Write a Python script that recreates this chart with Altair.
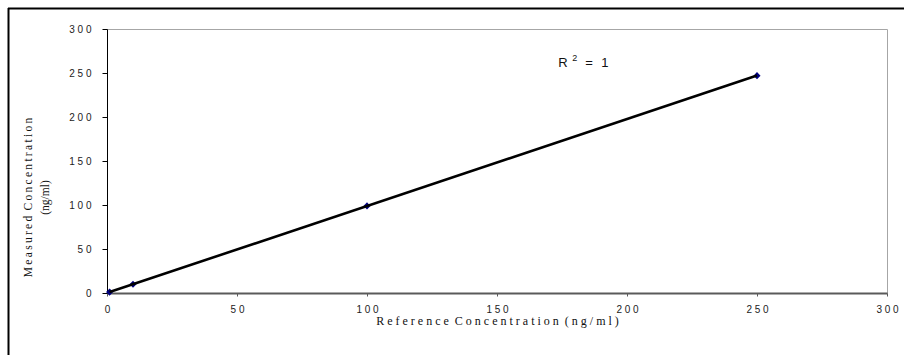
import altair as alt
import pandas as pd

# Data
reference_conc = [1, 10, 100, 250]
measured_conc = [1, 10, 99, 247]
tick_values = [0, 50, 100, 150, 200, 250, 300]

# Annotation (R^2) anchor in data units
ann_x = [173.6]
ann_y = [257]
ann_parts = ["R", "2", "=", "1"]

df = pd.DataFrame({"ref": reference_conc, "meas": measured_conc})
ann = pd.DataFrame({"x": ann_x, "y": ann_y})

W, H = 780, 264
PAD_L, PAD_T = 107, 29

x_scale = alt.Scale(domain=[0, 300], nice=False, zero=True)
y_scale = alt.Scale(domain=[0, 300], nice=False, zero=True)

spaced = "join(split(datum.label, ''), ' ')"

NB = "\u00a0"
TH = "\u2009"
x_title = (NB + NB).join(NB.join(list(w)) for w in ["Reference", "Concentration", "(ng/ml)"])
y_title_1 = (NB + TH).join(TH.join(list(w)) for w in ["Measured", "Concentration"])
y_title_2 = "(ng/ml)"

x_axis = alt.Axis(
    values=tick_values,
    title=x_title,
    titleFont="Liberation Serif",
    titleFontSize=12,
    titleFontWeight="normal",
    titleColor="#111111",
    titleX=W / 2,
    titleY=27,
    titleAnchor="middle",
    titleAlign="center",
    titleBaseline="middle",
    labelExpr=spaced,
    labelFont="Liberation Sans",
    labelFontSize=10,
    labelColor="#222222",
    labelPadding=8,
    labelFlush=False,
    labelOverlap=False,
    domainColor="#5a5a5a",
    domainWidth=2,
    tickColor="#5a5a5a",
    tickSize=3,
    tickWidth=1,
    grid=False,
)

y_axis = alt.Axis(
    values=tick_values,
    title=[y_title_1, y_title_2],
    titleFont="Liberation Serif",
    titleFontSize=11.5,
    titleFontWeight="normal",
    titleColor="#111111",
    titleAngle=270,
    titleX=-79,
    titleY=168,
    titleAlign="center",
    titleBaseline="middle",
    titleLineHeight=17,
    labelExpr=spaced,
    labelFont="Liberation Sans",
    labelFontSize=10,
    labelColor="#222222",
    labelPadding=11,
    labelFlush=False,
    labelOverlap=False,
    domainColor="#000000",
    domainWidth=1,
    tickColor="#000000",
    tickSize=5,
    grid=False,
)

base = alt.Chart(df)

points = base.mark_point(
    shape="diamond", filled=True, size=50, color="#000080", opacity=1
).encode(
    x=alt.X("ref:Q", scale=x_scale, axis=x_axis),
    y=alt.Y("meas:Q", scale=y_scale, axis=y_axis),
)

trend = base.transform_regression("ref", "meas").mark_line(
    color="#000000", strokeWidth=2.6
).encode(
    x=alt.X("ref:Q", scale=x_scale),
    y=alt.Y("meas:Q", scale=y_scale),
)

txt_common = dict(font="Liberation Sans", color="#111111", align="left", baseline="alphabetic")
ann_base = alt.Chart(ann).encode(
    x=alt.X("x:Q", scale=x_scale), y=alt.Y("y:Q", scale=y_scale)
)
r_txt = ann_base.mark_text(text=ann_parts[0], fontSize=13, dx=0, **txt_common)
sup_txt = ann_base.mark_text(text=ann_parts[1], fontSize=9, dx=14, dy=-6, **txt_common)
eq_txt = ann_base.mark_text(text=ann_parts[2], fontSize=13, dx=27, **txt_common)
one_txt = ann_base.mark_text(text=ann_parts[3], fontSize=13, dx=43, **txt_common)

# Outer chart-area border (left and top edges visible in the reference)
border_top = alt.Chart(ann).mark_rule(color="#000000", strokeWidth=2).encode(
    x=alt.value(8 - PAD_L), x2=alt.value(904 - PAD_L + 5), y=alt.value(8.5 - PAD_T)
)
border_left = alt.Chart(ann).mark_rule(color="#000000", strokeWidth=2).encode(
    x=alt.value(8.5 - PAD_L), y=alt.value(8 - PAD_T), y2=alt.value(355 - PAD_T + 5)
)

chart = alt.layer(
    points, trend, r_txt, sup_txt, eq_txt, one_txt, border_top, border_left
).properties(
    width=W,
    height=H,
    autosize=alt.AutoSizeParams(type="none"),
    padding={"left": PAD_L, "top": PAD_T, "right": 904 - PAD_L - W, "bottom": 355 - PAD_T - H},
    background="#ffffff",
).configure_view(
    stroke="#a6a6a6", strokeWidth=1
)

chart.save("out.html", embed_options={"renderer": "svg", "actions": False})
